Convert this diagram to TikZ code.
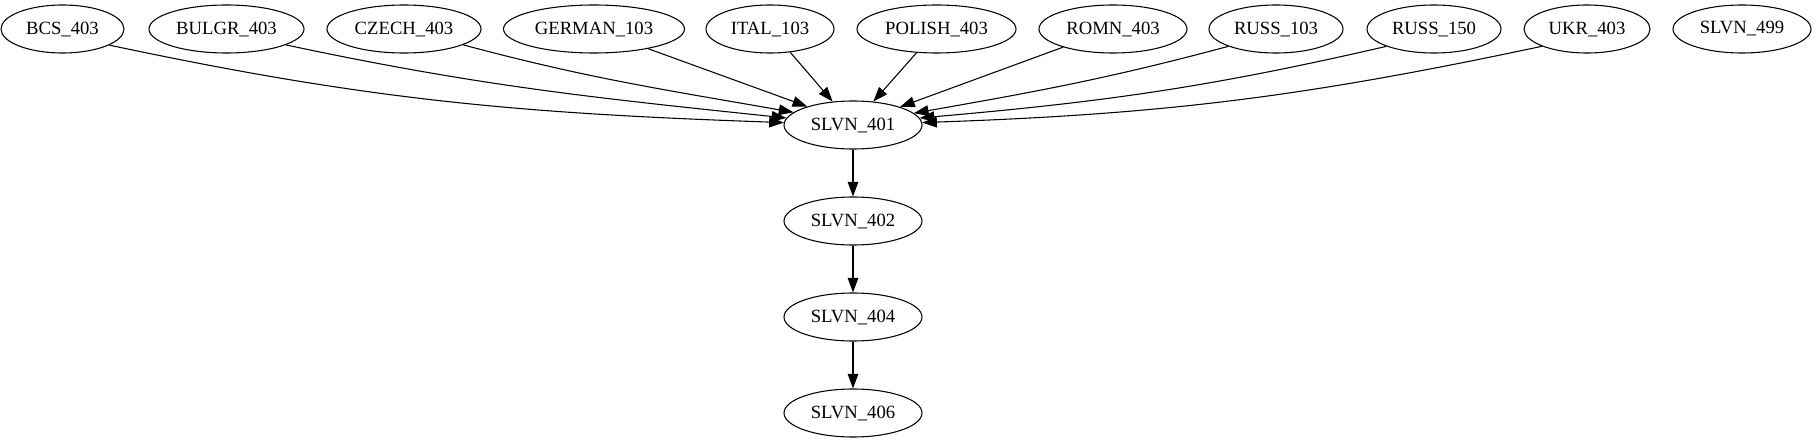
\documentclass[tikz,border=0pt]{standalone}
\usepackage{fontspec}
\setmainfont{Liberation Serif}
\usetikzlibrary{shapes.geometric,arrows.meta}
\begin{document}
\begin{tikzpicture}[x=0.75pt,y=0.75pt,
  gv/.style={draw, ellipse, minimum height=36pt, inner sep=0pt, line width=0.8pt, font=\fontsize{14}{16}\selectfont},
  arr/.style={line width=0.8pt, -{Triangle[length=11pt,width=8pt]}}]
\useasboundingbox (0,0) rectangle (1816,443);
% top row
\node[gv, minimum width=92.25pt]  (bcs)  at (62.5,414)  {BCS\_403};
\node[gv, minimum width=116.25pt] (bu)   at (226.5,414) {BULGR\_403};
\node[gv, minimum width=115.5pt]  (cz)   at (404,414)   {CZECH\_403};
\node[gv, minimum width=135.75pt] (ge)   at (594,414)   {GERMAN\_103};
\node[gv, minimum width=96pt]     (it)   at (770,414)   {ITAL\_103};
\node[gv, minimum width=119.25pt] (pl)   at (936.5,414) {POLISH\_403};
\node[gv, minimum width=111pt]    (rm)   at (1113,414)  {ROMN\_403};
\node[gv, minimum width=100.5pt]  (r103) at (1276,414)  {RUSS\_103};
\node[gv, minimum width=100.5pt]  (r150) at (1434,414)  {RUSS\_150};
\node[gv, minimum width=94.5pt]   (ukr)  at (1587,414)  {UKR\_403};
\node[gv, minimum width=103.5pt]  (s499) at (1742,414)  {SLVN\_499};
% chain
\node[gv, minimum width=103.5pt]  (s401) at (853,318)   {SLVN\_401};
\node[gv, minimum width=103.5pt]  (s402) at (853,222)   {SLVN\_402};
\node[gv, minimum width=103.5pt]  (s404) at (853,126)   {SLVN\_404};
\node[gv, minimum width=103.5pt]  (s406) at (853,30)    {SLVN\_406};
% edges into SLVN_401
\draw[arr] (bcs.-19.4)   to[out=-12,in=178]   (s401.178);
\draw[arr] (bu.-15.8)    to[out=-12,in=174]   (s401.174);
\draw[arr] (cz.-15.4)    to[out=-15,in=170]   (s401.168);
\draw[arr] (ge.-20.4)    -- (s401.158);
\draw[arr] (it.-49)      -- (s401.131);
\draw[arr] (pl.-130.3)   -- (s401.49);
\draw[arr] (rm.-160.5)   -- (s401.21);
\draw[arr] (r103.-160.9) to[out=-165,in=10]   (s401.11);
\draw[arr] (r150.-160.9) to[out=-167,in=5]    (s401.6);
\draw[arr] (ukr.-159.3)  to[out=-168,in=2]    (s401.2);
% chain edges
\draw[arr] (s401) -- (s402);
\draw[arr] (s402) -- (s404);
\draw[arr] (s404) -- (s406);
\end{tikzpicture}
\end{document}
